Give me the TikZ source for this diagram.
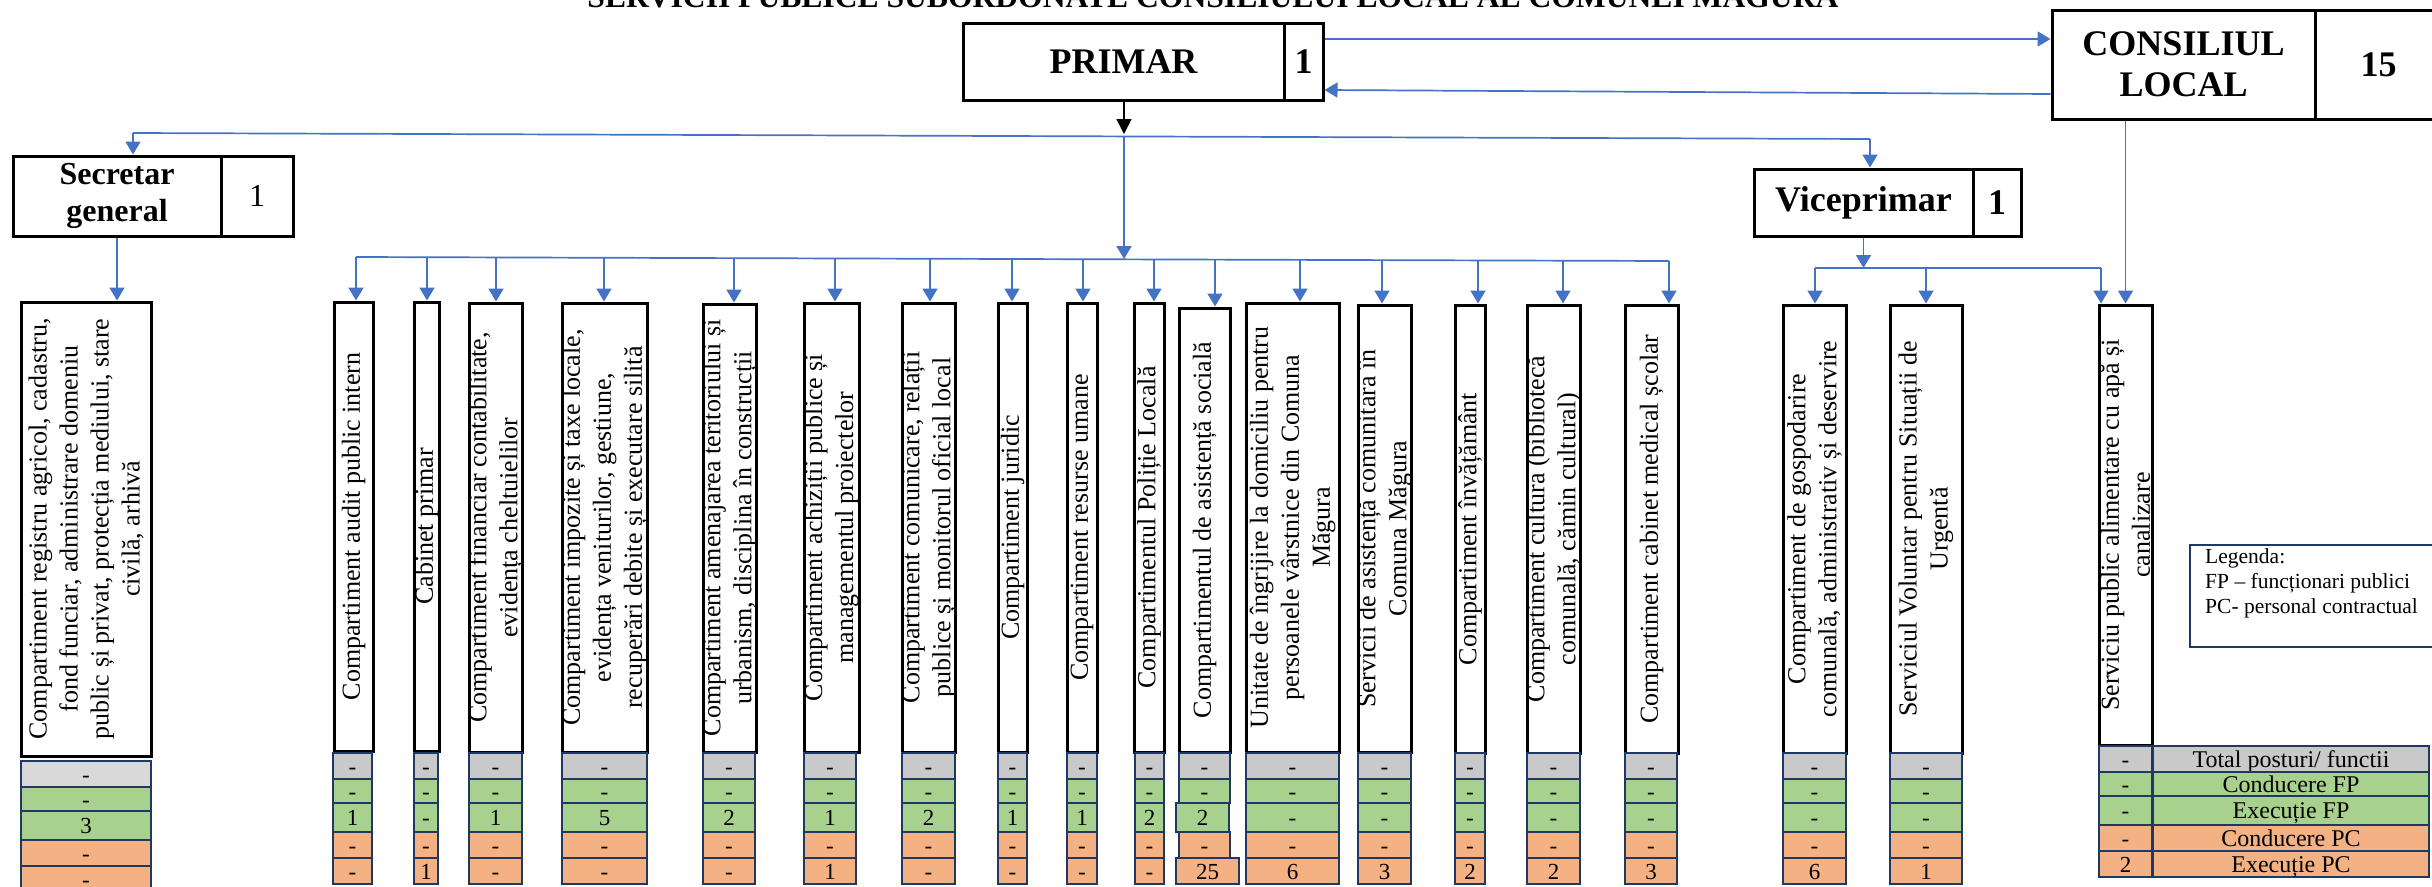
\documentclass[tikz,border=0pt]{standalone}
\usepackage{fontspec}
\setmainfont{Liberation Serif}
\usetikzlibrary{arrows.meta}
\definecolor{cblue}{HTML}{4472C4}
\definecolor{cnavy}{HTML}{1F3864}
\definecolor{cgray}{HTML}{C9C9C9}
\definecolor{cgrayl}{HTML}{D9D9D9}
\definecolor{cgreen}{HTML}{A9D18E}
\definecolor{corange}{HTML}{F4B183}
\def\graycol{cgray}
% department box with rotated text
\newcommand\mydept[6]{%
  \node[deptbox, spanxy={#2}{#4}{#3}{#5}] (#1) {};
  \node[depttext] (#1t) at (#1.center) {#6};
}
% arrow from the lower bus to a department box
\newcommand\mytap[2]{%
  \coordinate (#1tap) at (#2,{257+(#2-356)*0.003047});
  \draw[conn] (#1tap) -- (#1tap |- #1.north);
}
% five number cells under a box
\newcommand\mycells[9]{%
  \node[cell, fill=\graycol, spanxy={#2}{753+#4}{#3}{779+#4}] (#1a) {#5};
  \node[cell, fill=cgreen, spanxy={#2}{779+#4}{#3}{803+#4}] (#1b) {#6};
  \node[cell, fill=cgreen, spanxy={#2}{803+#4}{#3}{832+#4}] (#1c) {#7};
  \node[cell, fill=corange, spanxy={#2}{832+#4}{#3}{858+#4}] (#1d) {#8};
  \node[cell, fill=corange, spanxy={#2}{858+#4}{#3}{884+#4}] (#1e) {#9};
}
\begin{document}
\begin{tikzpicture}[x=1pt,y=-1pt,
  spanxy/.style n args={4}{anchor=center, minimum width={(#3)-(#1)}, minimum height={(#4)-(#2)},
     at={({((#1)+(#3))/2},{((#2)+(#4))/2})}},
  box/.style={draw=black, line width=3pt, fill=white, inner sep=0pt},
  head/.style={font=\fontsize{36}{41}\selectfont\bfseries, align=center},
  deptbox/.style={draw=black, line width=3pt, fill=white, inner sep=0pt},
  depttext/.style={rotate=90, align=center, inner sep=0pt, font=\fontsize{26}{31}\selectfont},
  conn/.style={draw=cblue, line width=1.7pt, -{Triangle[width=15pt,length=13pt]}},
  busline/.style={draw=cblue, line width=1.7pt},
  blkarrow/.style={draw=black, line width=1.5pt, -{Triangle[width=15pt,length=15pt]}},
  cell/.style={draw=cnavy, line width=2.5pt, inner sep=0pt, font=\fontsize{23}{25}\selectfont, text height=16pt, text depth=0pt},
  legcell/.style={cell, font=\fontsize{24}{26}\selectfont, text height=16pt}
]
\useasboundingbox (0,0) rectangle (2432,886);
\clip (0,0) rectangle (2432,886);

% title (cut by the top edge)
\node[anchor=base, inner sep=0pt, font=\fontsize{31.6}{36}\selectfont\bfseries] (title) at (1213,8)
  {SERVICII PUBLICE SUBORDONATE CONSILIULUI LOCAL AL COMUNEI MĂGURA};

% head boxes
\node[box, head, spanxy={963}{23}{1284}{100}] (primarL) {PRIMAR};
\node[box, head, spanxy={1284}{23}{1323}{100}] (primarN) {1};
\node[box, head, spanxy={2052}{10}{2315}{119}] (consL) {CONSILIUL\\LOCAL};
\node[box, head, spanxy={2315}{10}{2442}{119}] (consN) {15};
\node[box, font=\fontsize{32}{37}\selectfont\bfseries, align=center, spanxy={13}{156}{221}{236}] (secL) {Secretar\\general};
\node[box, font=\fontsize{32}{37}\selectfont, spanxy={221}{156}{293}{236}] (secN) {1};
\node[box, head, spanxy={1754}{169}{1973}{236}] (viceL) {Viceprimar};
\node[box, head, spanxy={1973}{169}{2021}{236}] (viceN) {1};

% department boxes
\mydept{reg}{21}{151}{302}{756}{Compartiment registru agricol, cadastru,\\fond funciar, administrare domeniu\\public și privat, protecția mediului, stare\\civilă, arhivă}
\mydept{audit}{334}{373}{302}{751}{Compartiment audit public intern}
\mydept{cab}{414}{439}{302}{751}{Cabinet primar}
\mydept{fin}{469}{522}{303}{752}{Compartiment financiar contabilitate,\\evidența cheltuielilor}
\mydept{imp}{562}{647}{303}{752}{Compartiment impozite și taxe locale,\\evidența veniturilor, gestiune,\\recuperări debite și executare silită}
\mydept{amen}{703}{756}{304}{752}{Compartiment amenajarea teritoriului și\\urbanism, disciplina în construcții}
\mydept{achiz}{804}{859}{303}{752}{Compartiment achiziții publice și\\managementul proiectelor}
\mydept{comun}{902}{955}{303}{752}{Compartiment comunicare, relații\\publice și monitorul oficial local}
\mydept{jur}{998}{1027}{303}{752}{Compartiment juridic}
\mydept{res}{1067}{1097}{303}{752}{Compartiment resurse umane}
\mydept{pol}{1134}{1164}{303}{752}{Compartimentul Poliție Locală}
\mydept{asist}{1179}{1230}{308}{752}{Compartimentul de asistență socială}
\mydept{unit}{1246}{1339}{303}{752}{Unitate de îngrijire la domiciliu pentru\\persoanele vârstnice din Comuna\\Măgura}
\mydept{serv}{1358}{1411}{305}{752}{Servicii de asistență comunitara în\\Comuna Măgura}
\mydept{inv}{1455}{1485}{305}{753}{Compartiment învățământ}
\mydept{cult}{1527}{1580}{305}{753}{Compartiment cultura (bibliotecă\\comunală, cămin cultural)}
\mydept{med}{1625}{1678}{305}{753}{Compartiment cabinet medical școlar}
\mydept{gosp}{1783}{1846}{305}{753}{Compartiment de gospodarire\\comunală, administrativ și deservire}
\mydept{vol}{1890}{1962}{305}{753}{Serviciul Voluntar pentru Situații de\\Urgentă}
\mydept{alim}{2099}{2152}{305}{745}{Serviciu public alimentare cu apă și\\canalizare}

% number cells
\def\graycol{cgrayl}
\mycells{reg}{21}{151}{8}{-}{-}{3}{-}{-}
\def\graycol{cgray}
\mycells{audit}{333}{372}{0}{-}{-}{1}{-}{-}
\mycells{cab}{414}{438}{0}{-}{-}{-}{-}{1}
\mycells{fin}{469}{522}{0}{-}{-}{1}{-}{-}
\mycells{imp}{562}{647}{0}{-}{-}{5}{-}{-}
\mycells{amen}{703}{755}{0}{-}{-}{2}{-}{-}
\mycells{achiz}{804}{856}{0}{-}{-}{1}{-}{1}
\mycells{comun}{902}{955}{0}{-}{-}{2}{-}{-}
\mycells{jur}{998}{1027}{0}{-}{-}{1}{-}{-}
\mycells{res}{1067}{1097}{0}{-}{-}{1}{-}{-}
\mycells{pol}{1135}{1164}{0}{-}{-}{2}{-}{-}
\node[cell, fill=cgray, spanxy={1179}{753}{1230}{779}] (asista) {-};
\node[cell, fill=cgreen, spanxy={1179}{779}{1230}{803}] (asistb) {-};
\node[cell, fill=cgreen, spanxy={1176}{803}{1229}{832}] (asistc) {2};
\node[cell, fill=corange, spanxy={1179}{832}{1230}{858}] (asistd) {-};
\node[cell, fill=corange, spanxy={1176}{858}{1239}{884}] (asiste) {25};
\mycells{unit}{1246}{1339}{0}{-}{-}{-}{-}{6}
\mycells{serv}{1358}{1411}{0}{-}{-}{-}{-}{3}
\mycells{inv}{1455}{1485}{0}{-}{-}{-}{-}{2}
\mycells{cult}{1527}{1580}{0}{-}{-}{-}{-}{2}
\mycells{med}{1625}{1677}{0}{-}{-}{-}{-}{3}
\mycells{gosp}{1783}{1846}{0}{-}{-}{-}{-}{6}
\mycells{vol}{1890}{1962}{0}{-}{-}{-}{-}{1}
\mycells{alim}{2099}{2152}{-7}{-}{-}{-}{-}{2}

% legend table
\node[legcell, fill=cgray, spanxy={2153}{746}{2429}{772}] (lega) {Total posturi/ functii};
\node[legcell, fill=cgreen, spanxy={2153}{772}{2429}{796}] (legb) {Conducere FP};
\node[legcell, fill=cgreen, spanxy={2153}{796}{2429}{825}] (legc) {Execuție FP};
\node[legcell, fill=corange, spanxy={2153}{825}{2429}{851}] (legd) {Conducere PC};
\node[legcell, fill=corange, spanxy={2153}{851}{2429}{877}] (lege) {Execuție PC};

% legend box
\node[draw=cnavy, line width=2.5pt, inner sep=0pt, spanxy={2190}{545}{2450}{647}] (legend) {};
\node[anchor=north west, align=left, inner sep=0pt, font=\fontsize{21.5}{25}\selectfont] (legendT) at (2205,548)
  {Legenda:\\FP – funcționari publici\\PC- personal contractual};

% connectors: primar <-> consiliu
\coordinate (h39) at (0,39);
\coordinate (h90) at (0,90);
\coordinate (h94) at (0,94);
\draw[conn] (primarN.east |- h39) -- (consL.west |- h39);
\draw[conn] (consL.west |- h94) -- (primarN.east |- h90);

% primar down
\coordinate (hub) at (1124,134);
\draw[blkarrow] (primarL.south -| hub) -- (hub);

% upper bus
\coordinate (busL) at (133,133);
\coordinate (busR) at (1870,139);
\draw[busline] (busL) -- (busR);
\draw[conn] (busL) -- (busL |- secL.north);
\draw[conn] (busR) -- (busR |- viceL.north);

% secretar down
\draw[conn] (secL.south) -- (secL.south |- reg.north);

% lower bus
\coordinate (b2top) at (1124,137);
\coordinate (b2mid) at (1124,259);
\draw[conn] (b2top) -- (b2mid);
\coordinate (b2L) at (356,257);
\coordinate (b2R) at (1669,261);
\draw[busline] (b2L) -- (b2R);
\mytap{audit}{356}
\mytap{cab}{427}
\mytap{fin}{496}
\mytap{imp}{604}
\mytap{amen}{734}
\mytap{achiz}{835}
\mytap{comun}{930}
\mytap{jur}{1012}
\mytap{res}{1083}
\mytap{pol}{1154}
\mytap{asist}{1215}
\mytap{unit}{1300}
\mytap{serv}{1382}
\mytap{inv}{1478}
\mytap{cult}{1563}
\mytap{med}{1669}

% viceprimar bus
\coordinate (vbusL) at (1815,268);
\coordinate (vbusR) at (2101,268);
\draw[conn] (viceL.south) -- (viceL.south |- vbusL);
\draw[busline] (vbusL) -- (vbusR);
\draw[conn] (vbusL) -- (vbusL |- gosp.north);
\draw[conn] (vol.north |- vbusL) -- (vol.north);
\draw[conn] (vbusR) -- (vbusR |- alim.north);

% consiliu down to alimentare
\draw[conn] (consL.south -| alim.north) -- (alim.north);
\end{tikzpicture}
\end{document}
